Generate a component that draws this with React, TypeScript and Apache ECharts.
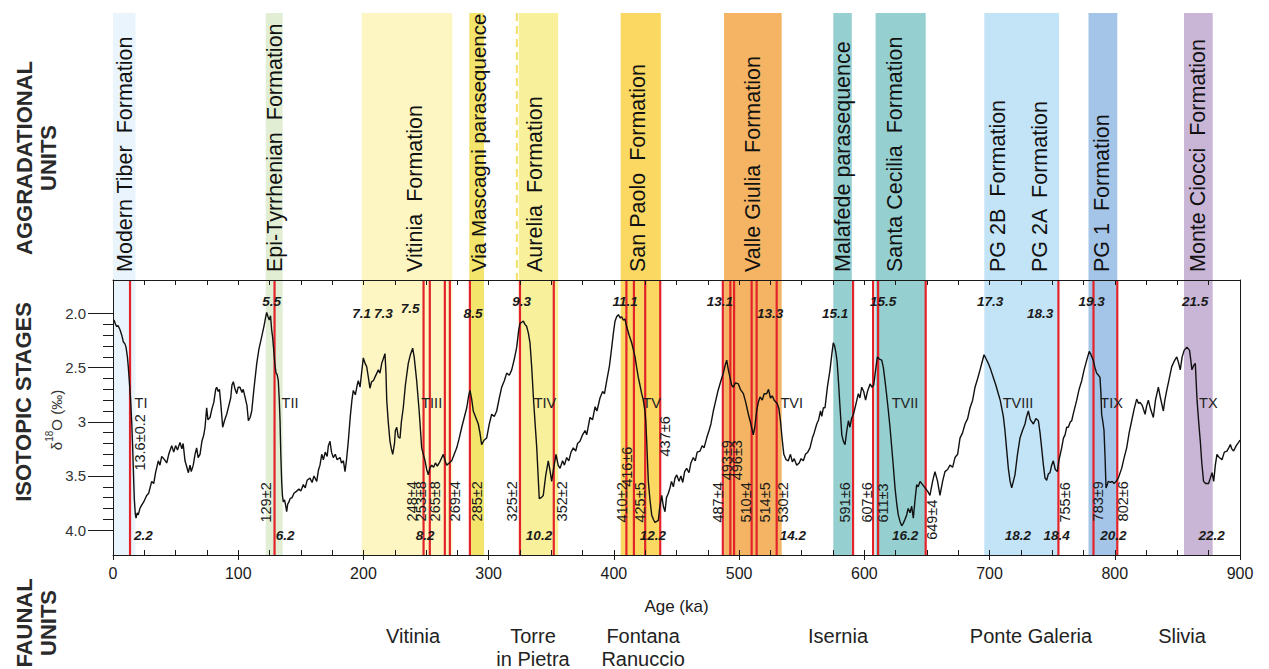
import React, { useEffect, useRef } from "react";
import * as echarts from "echarts";

// ---------- DATA ----------
// δ18O curve: [age ka, δ18O ‰]
const curve: [number, number][] = [
  [0.8,2.06],[2,2.10],[3,2.12],[4,2.11],[5.6,2.15],[7,2.20],[8.2,2.26],[9.5,2.28],[10.4,2.31],[11.5,2.40],[12.2,2.49],[13.2,2.65],[14.1,2.80],[15,3.02],[15.7,3.24],[16.4,3.50],[17,3.71],[17.8,3.85],[18.4,3.89],[19.3,3.84],[20.2,3.86],[21.5,3.80],[22.9,3.77],[24.5,3.74],[26.9,3.68],[28.5,3.66],[30.9,3.55],[32.5,3.57],[34,3.47],[36.2,3.36],[37.5,3.40],[38.9,3.32],[40.5,3.34],[42.9,3.38],[44.5,3.30],[46.9,3.22],[48.5,3.28],[50,3.22],[51.5,3.26],[53.5,3.19],[55,3.25],[56,3.20],[57.5,3.36],[59,3.42],[60.2,3.47],[61.5,3.40],[62.5,3.46],[64.1,3.40],[65.5,3.30],[66.8,3.24],[68,3.33],[69.5,3.30],[71,3.18],[72.5,3.12],[73.5,3.05],[74.8,2.87],[75.8,2.98],[77.5,2.96],[79,2.88],[80.5,2.82],[82,2.70],[82.8,2.68],[84,2.72],[85,2.70],[86,2.82],[87.6,3.05],[89,2.99],[90.8,2.93],[92.5,2.85],[94,2.78],[95,2.66],[96.1,2.63],[97.5,2.70],[98.8,2.74],[100,2.68],[101.4,2.68],[103,2.73],[104,2.70],[105.4,2.77],[107,2.85],[108.1,2.99],[109.5,2.96],[110.8,2.90],[112.5,2.70],[114.8,2.46],[116.5,2.33],[118.8,2.21],[120.5,2.12],[121.8,2.04],[122.7,1.99],[123.8,2.03],[124.8,2.06],[125.8,2.02],[126.7,2.15],[127.5,2.22],[128.6,2.37],[129.4,2.48],[130.2,2.55],[131,2.56],[132,2.62],[132.8,2.80],[133.4,2.99],[134,3.30],[134.7,3.55],[135.3,3.68],[136,3.74],[137,3.72],[138,3.78],[138.7,3.83],[139.5,3.76],[140.5,3.74],[141.4,3.71],[143,3.70],[144.5,3.66],[146.7,3.64],[148.5,3.62],[150,3.64],[152,3.58],[153.5,3.61],[155,3.54],[157.3,3.52],[159,3.56],[160.5,3.50],[162.7,3.55],[164,3.45],[165.3,3.40],[166.7,3.30],[168,3.35],[169.5,3.28],[171,3.32],[172,3.22],[173.3,3.18],[174.5,3.28],[175.9,3.33],[177.5,3.30],[179,3.35],[181.3,3.33],[182.5,3.38],[184,3.36],[185.3,3.46],[186.5,3.35],[187.9,3.18],[189.5,2.95],[190.8,2.80],[191.9,2.71],[193.5,2.75],[195,2.66],[195.9,2.62],[197.3,2.68],[198.5,2.55],
  [199.9,2.41],[201.3,2.46],[202.6,2.49],[203.8,2.58],[205.2,2.69],[206.5,2.63],[207.9,2.62],[209.5,2.58],[211.9,2.52],[213.2,2.55],[214.6,2.46],[215.8,2.42],[217.2,2.37],[218,2.55],[218.6,2.80],[219.8,3.00],[221.2,3.18],[222.3,3.25],[223.4,3.30],[224.8,3.20],[225.5,3.08],[226.6,3.05],[227.8,3.14],[229.2,3.15],[230.3,3.00],[231.8,2.87],[233.5,2.66],[235.8,2.46],[237.5,2.38],[239.3,2.32],[240.5,2.40],[242.5,2.62],[244.5,2.90],[246.5,3.24],[247.8,3.30],[249.2,3.36],[250.5,3.44],[251.8,3.49],[253,3.43],[254.5,3.40],[256,3.42],[257.5,3.38],[259,3.41],[261,3.37],[263.8,3.30],[265.2,3.36],[266.5,3.40],[268.5,3.38],[270.5,3.36],[272.5,3.30],[274.5,3.24],[276.5,3.15],[278.5,3.05],[280.5,2.96],[282.5,2.87],[284,2.76],[285.1,2.71],[286.3,2.78],[287.7,2.90],[289.7,2.96],[291.7,3.02],[293,3.10],[294.4,3.21],[296.3,3.17],[298.4,3.15],[300.5,3.02],[302.4,2.93],[304.5,2.95],[306.4,2.90],[308.5,2.78],[310.4,2.68],[312.5,2.62],[314.4,2.55],[316.5,2.57],[318.4,2.52],[320.5,2.42],[322.4,2.31],[324,2.15],[325,2.09],[326.4,2.08],[327.7,2.07],[329,2.10],[330.4,2.12],[331.7,2.18],[333,2.27],[334.4,2.50],[335.7,2.77],[337,3.00],[338.4,3.24],[339.5,3.50],[340.4,3.71],[342,3.70],[343.6,3.68],[345.5,3.50],[347.6,3.36],[349,3.45],[350.3,3.55],[352,3.42],[353.8,3.30],[355.5,3.40],[357,3.43],[359,3.36],[360.5,3.40],[362.3,3.33],[364,3.36],[365.8,3.28],[367.6,3.24],[369.5,3.27],[371,3.20],[372.9,3.18],
  [375,3.12],[377,3.08],[378.3,3.12],[380.9,2.96],[383,2.98],[385,2.86],[386.5,2.90],[388.9,2.78],[391,2.72],[392.5,2.74],[394.3,2.62],[396.5,2.48],[398.3,2.31],[399.6,2.18],[400.9,2.07],[402.2,2.03],[403.6,2.01],[405,2.04],[406.2,2.03],[407.5,2.06],[408.8,2.05],[410.2,2.12],[412.2,2.20],[414.2,2.27],[415.5,2.33],[416.9,2.40],[418.2,2.50],[419.5,2.59],[420.8,2.66],[422.2,2.74],[423.5,2.80],[424.8,2.90],[425.5,3.00],[426.2,3.18],[426.8,3.35],[427.5,3.55],[428.8,3.72],[430.2,3.86],[431.5,3.90],[432.8,3.93],[434.2,3.92],[435.5,3.91],[436.5,3.80],[438.2,3.68],[439.5,3.78],[440.8,3.83],[442,3.70],[443.5,3.66],[444.8,3.61],[446,3.55],[447.5,3.60],[448.8,3.52],[450.2,3.49],[452,3.55],[453.5,3.50],[455,3.56],[456.5,3.46],[458.1,3.43],[460,3.47],[461.5,3.38],[463.4,3.33],[465,3.36],[466.5,3.28],[468.8,3.27],[470.5,3.22],[472,3.24],[474.1,3.15],[476,3.08],[477.5,3.02],[479.4,2.90],[481,2.82],[483,2.72],[484.7,2.65],[486,2.60],[487.4,2.55],[488.8,2.48],[490.1,2.43],[491.4,2.52],[492.7,2.59],[494,2.66],[495.4,2.68],[497,2.64],[499.4,2.65],[501,2.70],[503.4,2.74],[505.3,2.82],[507.4,2.93],[509.4,3.02],[511.3,3.12],[512.5,3.05],[514,2.90],[515.3,2.82],[516.7,2.77],[518.5,2.80],[520,2.74],[522,2.74],[523.5,2.70],[525,2.78],[526.5,2.76],[528,2.80],[530.4,2.83],[531.8,2.88],[533,2.99],[534.3,3.15],[535.7,3.30],[537.5,3.35],[539.3,3.36],[541,3.30],[542.5,3.37],[544,3.34],[546,3.40],[548,3.38],[549.5,3.34],[551.3,3.36],[553,3.30],[554.8,3.28],[556.6,3.24],[558.5,3.15],[560,3.10],[562,3.02],[563.5,2.98],[565,2.90],[566,2.95],[567.3,2.87],[568.6,2.87],[570.5,2.68],[572.6,2.52],[574,2.38],[575.2,2.27],
  [576.3,2.30],[577.4,2.37],[578.3,2.45],[579.3,2.62],[580.5,2.85],[582,3.12],[583.3,3.18],[584.6,3.21],[586,3.08],[587.3,2.99],[588.5,3.05],[589.8,2.97],[591.3,2.93],[593,2.85],[595.2,2.74],[596.5,2.78],[597.9,2.68],[599.5,2.72],[601,2.80],[602.5,2.72],[604.6,2.65],[606,2.68],[607.5,2.66],[609,2.52],[610.4,2.40],[612,2.42],[613.9,2.43],[615.2,2.50],[616.5,2.62],[617.8,2.75],[619.2,2.90],[620.5,3.05],[621.9,3.24],[623.2,3.42],[624.5,3.61],[625.8,3.75],[627.1,3.86],[628.5,3.92],[629.8,3.96],[631,3.94],[632.5,3.90],[633.8,3.86],[635,3.80],[636.5,3.84],[637.8,3.78],[639.1,3.89],[640.5,3.72],[641.8,3.58],[643,3.60],[644.5,3.55],[646.5,3.58],[648.5,3.61],[650.5,3.64],[652.4,3.68],[654.5,3.55],[656.4,3.46],[658.5,3.55],[660.4,3.68],[662.5,3.55],[664.4,3.46],[666.5,3.44],[668.4,3.40],[670.5,3.42],[672.4,3.33],[674.5,3.30],[676.4,3.15],[678.5,3.10],[680.4,3.02],[682.5,2.97],[684.4,2.87],[686.5,2.80],[688.4,2.68],[690.5,2.60],[692.4,2.52],[694,2.45],[695.6,2.38],[697.3,2.42],[699,2.46],[701,2.52],[703,2.59],[705,2.66],[707,2.74],[708.5,2.80],[709.7,2.87],[711,2.95],[712.3,3.08],[713.6,3.25],[715,3.43],[716.4,3.55],[717.7,3.61],[719,3.55],[720.3,3.49],[722.3,3.30],[724.3,3.15],[726.3,3.08],[728.3,3.02],[729.6,2.95],[731,2.90],[732.5,2.98],[735,3.02],[737,2.97],[739,2.99],[740.3,3.10],[741.6,3.24],[743,3.40],[744.3,3.52],[745.6,3.54],[747,3.48],[748.3,3.47],[749.6,3.40],[750.9,3.36],[752.5,3.44],[754.1,3.46],[755.5,3.35],[757.6,3.24],[759,3.15],[760.3,3.12],[761.6,3.05],[762.9,3.05],[764.5,3.00],[765.6,2.99],[767,2.92],[769.6,2.80],[771.5,2.70],[773.6,2.62],[775.5,2.52],[777.6,2.43],[779.6,2.35],
  [781,2.38],[782.8,2.43],[784.2,2.50],[785.5,2.55],[787,2.57],[788.2,2.59],[789,2.75],[789.5,2.93],[790.5,3.00],[791.4,3.08],[792.3,3.35],[793,3.61],[794,3.58],[794.8,3.55],[796.5,3.56],[798,3.55],[799.4,3.57],[801,3.55],[802.8,3.52],[804,3.48],[805.5,3.43],[807.5,3.33],[809.5,3.24],[811.5,3.10],[813.5,2.99],[815.5,2.88],[817.5,2.79],[819,2.83],[820.2,2.82],[822,2.85],[824.2,2.93],[825.5,2.85],[826.8,2.80],[828.5,2.88],[830.8,2.96],[832.5,2.80],[834.8,2.68],[836.5,2.78],[838.8,2.90],[840,2.80],[841.5,2.71],[843.5,2.60],[845.5,2.49],[847.5,2.44],[849.5,2.40],[850.8,2.45],[852.3,2.52],[853.8,2.40],[855.4,2.34],[857.6,2.31],[859.7,2.34],[860.6,2.42],[861.6,2.52],[863,2.48],[864.3,2.46],[865.7,2.80],[867,3.00],[868.3,3.18],[869.5,3.38],[870.9,3.55],[872.5,3.57],[874.9,3.57],[876.3,3.52],[877.7,3.47],[879,3.55],[880.3,3.40],[881.6,3.30],[883.5,3.33],[885.6,3.35],[887.5,3.28],[889.6,3.27],[891,3.24],[892.3,3.21],[893.5,3.25],[894.9,3.27],[897,3.22],[898.9,3.19],[900,3.17],
];

// aggradational units: age ranges (ka)
const bandRanges: [number, number][] = [
  [0, 18], [122, 135.5], [198.6, 271], [284.5, 296.3], [324, 355.5], [405.4, 437.5],
  [488, 534], [575.2, 590], [609, 649], [695.8, 755.5], [779, 802], [855.3, 878.2],
];
const aureliaDashedAge = 322.5;

const formationNames = [
  "Modern Tiber  Formation", "Epi-Tyrrhenian  Formation", "Vitinia  Formation",
  "Via Mascagni parasequence", "Aurelia  Formation", "San Paolo  Formation",
  "Valle Giulia  Formation", "Malafede parasequence", "Santa Cecilia  Formation",
  "PG 2B  Formation", "PG 2A  Formation", "PG 1  Formation", "Monte Ciocci  Formation",
];
const formationAges = [9.6, 129.4, 241.2, 291.5, 337, 419.3, 511.1, 583, 624.5, 706.7, 740.3, 789.8, 866.5];

// dated levels (red lines)
const dateAges = [13.6, 129, 248, 253, 265, 269, 285, 325, 352, 410, 416, 425, 437, 487, 493, 496, 510, 514, 530, 591, 607, 611, 649, 755, 783, 802];
const dateLabels = ["13.6±0.2", "129±2", "248±4", "253±8", "265±8", "269±4", "285±2", "325±2", "352±2", "410±2", "416±6", "425±5", "437±6", "487±4", "493±9", "496±3", "510±4", "514±5", "530±2", "591±6", "607±6", "611±3", "649±4", "755±6", "783±9", "802±6"];
const dateLabelAges = [21.6, 122, 238.5, 246, 257.1, 273.1, 290.4, 318.4, 358.3, 406.2, 410.2, 420.9, 440.8, 483.4, 490.1, 498.1, 505.3, 520.7, 535.3, 584.6, 601.9, 615.2, 653.8, 760.3, 786.9, 806.8];
const dateLabelBase = [3.45, 3.93, 3.92, 3.92, 3.92, 3.92, 3.92, 3.92, 3.92, 3.93, 3.6, 3.93, 3.32, 3.93, 3.54, 3.54, 3.93, 3.93, 3.93, 3.93, 3.93, 3.93, 4.09, 3.93, 3.92, 3.92];

// marine isotope stages
const stageNames = ["5.5", "7.1", "7.3", "7.5", "8.5", "9.3", "11.1", "13.1", "13.3", "15.1", "15.5", "17.3", "18.3", "19.3", "21.5",
  "2.2", "6.2", "8.2", "10.2", "12.2", "14.2", "16.2", "18.2", "18.4", "20.2", "22.2"];
const stageAges = [126.7, 198.6, 216, 237.2, 287.5, 326.4, 408.9, 484.7, 524.7, 576.6, 615, 700.4, 740.3, 781.6, 864.1,
  24.2, 137.4, 249.2, 340.2, 431.2, 543, 632.5, 722.7, 753.6, 798.8, 877.4];
const stageLevels = [1.89, 2.0, 2.0, 1.95, 2.0, 1.89, 1.89, 1.89, 2.0, 2.0, 1.89, 1.89, 2.0, 1.89, 1.89,
  4.05, 4.05, 4.05, 4.05, 4.05, 4.05, 4.05, 4.05, 4.05, 4.05, 4.05];

// terminations
const terminationNames = ["TI", "TII", "TIII", "TIV", "TV", "TVI", "TVII", "TVIII", "TIX", "TX"];
const terminationAges = [22.4, 141.4, 254.5, 345, 430.2, 542, 632.5, 722.7, 797.5, 874.7];
const terminationLevel = 2.83;

// faunal units
const faunalNames = ["Vitinia", "Torre\nin Pietra", "Fontana\nRanuccio", "Isernia", "Ponte Galeria", "Slivia"];
const faunalAges = [239.6, 335.4, 423.3, 579, 733.1, 853.7];

// axis ticks
const yMajorTicks = [2, 2.5, 3, 3.5, 4];
const yTickLabels = ["2.0", "2.5", "3", "3.5", "4.0"];
const yMinorTicks = [2.1, 2.2, 2.3, 2.4, 2.6, 2.7, 2.8, 2.9, 3.1, 3.2, 3.3, 3.4, 3.6, 3.7, 3.8, 3.9];

// ---------- STYLE ----------
const bandColors = ["#eaf4fc", "#e2eed4", "#fdf6c3", "#f3e46c", "#f9f09c", "#fbd862", "#f5b463", "#95cfd0", "#95cfd0", "#c3e3f7", "#a4c5e7", "#c9b6d7"];
const FONT = "'Liberation Sans', Arial, Helvetica, sans-serif";
const INK = "#1a1a1a";

export default function App() {
  const ref = useRef<HTMLDivElement>(null);

  useEffect(() => {
    const chart = echarts.init(ref.current!, null, { renderer: "svg" });

    const fullLine = (color: string, width: number, dash?: number[]) => (params: any, api: any) => {
      const cs = params.coordSys;
      const x = api.coord([api.value(0), 0])[0];
      return {
        type: "line",
        shape: { x1: x, y1: cs.y, x2: x, y2: cs.y + cs.height },
        style: { stroke: color, lineWidth: width, lineDash: dash },
      };
    };
    const bandRender = (params: any, api: any) => {
      const cs = params.coordSys;
      const x0 = api.coord([api.value(0), 0])[0];
      const x1 = api.coord([api.value(1), 0])[0];
      return {
        type: "rect",
        shape: { x: x0, y: cs.y, width: x1 - x0, height: cs.height },
        style: { fill: bandColors[api.value(2)] },
      };
    };
    const txt = (x: number, y: number, text: string, o: any = {}) => ({
      type: "text",
      x, y,
      rotation: o.rotation || 0,
      style: {
        text,
        fill: o.fill || INK,
        fontSize: o.fontSize || 14,
        fontFamily: FONT,
        fontWeight: o.fontWeight || "normal",
        fontStyle: o.fontStyle || "normal",
        align: o.align || "center",
        verticalAlign: o.verticalAlign || "middle",
        lineHeight: o.lineHeight,
      },
    });

    const xBase = {
      type: "value", min: 0, max: 900, gridIndex: 1, z: 10,
      splitLine: { show: false },
    };
    const yBase = {
      type: "value", min: 1.69, max: 4.23, inverse: true, gridIndex: 1, z: 10,
      splitLine: { show: false },
    };

    const option: any = {
      animation: false,
      backgroundColor: "#ffffff",
      grid: [
        { left: 113, right: 29, top: 13, height: 267, show: false },
        { left: 113, right: 29, top: 280, height: 275, show: false },
      ],
      xAxis: [
        { type: "value", min: 0, max: 900, gridIndex: 0, show: false },
        {
          ...xBase, interval: 100, position: "bottom",
          axisLine: { show: true, onZero: false, lineStyle: { color: INK, width: 1 } },
          axisTick: { show: true, inside: false, length: 5, lineStyle: { color: INK } },
          axisLabel: { show: true, margin: 10, fontSize: 16, color: INK, fontFamily: FONT },
          name: "Age (ka)", nameLocation: "middle", nameGap: 43,
          nameTextStyle: { fontSize: 17, color: INK, fontFamily: FONT },
        },
        {
          ...xBase, interval: 25, position: "bottom",
          axisLine: { show: false },
          axisTick: { show: true, inside: true, length: 5, lineStyle: { color: INK } },
          axisLabel: { show: false },
        },
        {
          ...xBase, interval: 25, position: "top",
          axisLine: { show: true, onZero: false, lineStyle: { color: INK, width: 1 } },
          axisTick: { show: true, inside: true, length: 5, lineStyle: { color: INK } },
          axisLabel: { show: false },
        },
      ],
      yAxis: [
        { type: "value", min: 0, max: 1, gridIndex: 0, show: false },
        {
          ...yBase, position: "left",
          axisLine: { show: true, onZero: false, lineStyle: { color: INK, width: 1 } },
          axisTick: { show: true, inside: false, length: 25, customValues: yMajorTicks, lineStyle: { color: INK } },
          axisLabel: {
            show: true, customValues: yMajorTicks, margin: 27, fontSize: 15, color: "#333", fontFamily: FONT,
            formatter: (v: number) => {
              let best = 0;
              yMajorTicks.forEach((t, i) => { if (Math.abs(t - v) < Math.abs(yMajorTicks[best] - v)) best = i; });
              return yTickLabels[best];
            },
          },
        },
        {
          ...yBase, position: "left",
          axisLine: { show: false },
          axisTick: { show: true, inside: false, length: 10, customValues: yMinorTicks, lineStyle: { color: INK } },
          axisLabel: { show: false },
        },
        {
          ...yBase, position: "right",
          axisLine: { show: true, onZero: false, lineStyle: { color: INK, width: 1 } },
          axisTick: { show: false },
          axisLabel: { show: false },
        },
      ],
      series: [
        {
          type: "custom", xAxisIndex: 0, yAxisIndex: 0, z: 1, silent: true,
          data: bandRanges.map((r, i) => [r[0], r[1], i]),
          renderItem: bandRender,
        },
        {
          type: "custom", xAxisIndex: 1, yAxisIndex: 1, z: 1, silent: true,
          data: bandRanges.map((r, i) => [r[0], r[1], i]),
          renderItem: bandRender,
        },
        {
          type: "custom", xAxisIndex: 0, yAxisIndex: 0, z: 2, silent: true,
          data: [[aureliaDashedAge, 0]],
          renderItem: fullLine("#f2df6a", 2, [8, 5]),
        },
        {
          type: "custom", xAxisIndex: 1, yAxisIndex: 1, z: 3, silent: true,
          data: dateAges.map((a) => [a, 3]),
          renderItem: fullLine("#e3232a", 2.2),
        },
        {
          type: "line", xAxisIndex: 1, yAxisIndex: 1, z: 4, silent: true,
          data: curve, showSymbol: false, symbol: "none",
          lineStyle: { color: "#111", width: 1.4 },
        },
        {
          type: "custom", xAxisIndex: 0, yAxisIndex: 0, z: 5, silent: true,
          data: formationAges.map((a, i) => [a, 0.03, i]),
          renderItem: (params: any, api: any) => {
            const i = api.value(2);
            const p = api.coord([api.value(0), api.value(1)]);
            return txt(p[0], p[1], formationNames[i], {
              rotation: Math.PI / 2, align: "left", fontSize: i === 3 ? 20.5 : 21.5, fill: "#111",
            });
          },
        },
        {
          type: "custom", xAxisIndex: 1, yAxisIndex: 1, z: 5, silent: true,
          data: dateLabelAges.map((a, i) => [a, dateLabelBase[i], i]),
          renderItem: (params: any, api: any) => {
            const p = api.coord([api.value(0), api.value(1)]);
            return txt(p[0], p[1], dateLabels[api.value(2)], { rotation: Math.PI / 2, align: "left", fontSize: 14.5 });
          },
        },
        {
          type: "custom", xAxisIndex: 1, yAxisIndex: 1, z: 5, silent: true,
          data: stageAges.map((a, i) => [a, stageLevels[i], i]),
          renderItem: (params: any, api: any) => {
            const p = api.coord([api.value(0), api.value(1)]);
            return txt(p[0], p[1], stageNames[api.value(2)], { fontSize: 13.5, fontWeight: "bold", fontStyle: "italic" });
          },
        },
        {
          type: "custom", xAxisIndex: 1, yAxisIndex: 1, z: 5, silent: true,
          data: terminationAges.map((a, i) => [a, terminationLevel, i]),
          renderItem: (params: any, api: any) => {
            const p = api.coord([api.value(0), api.value(1)]);
            return txt(p[0], p[1], terminationNames[api.value(2)], { fontSize: 14.5, fill: "#222" });
          },
        },
        {
          type: "custom", xAxisIndex: 1, yAxisIndex: 1, z: 5, silent: true, clip: false,
          data: faunalAges.map((a, i) => [a, 4.23, i]),
          renderItem: (params: any, api: any) => {
            const p = api.coord([api.value(0), api.value(1)]);
            return txt(p[0], p[1] + 69, faunalNames[api.value(2)], {
              fontSize: 20, verticalAlign: "top", lineHeight: 23, fill: "#222",
            });
          },
        },
      ],
      graphic: [
        { type: "text", x: 24, y: 158, rotation: Math.PI / 2, style: { text: "AGGRADATIONAL", fontSize: 22, fontWeight: "bold", fontFamily: FONT, fill: "#2a2a2a", align: "center", verticalAlign: "middle" } },
        { type: "text", x: 48, y: 158, rotation: Math.PI / 2, style: { text: "UNITS", fontSize: 22, fontWeight: "bold", fontFamily: FONT, fill: "#2a2a2a", align: "center", verticalAlign: "middle" } },
        { type: "text", x: 23, y: 402, rotation: Math.PI / 2, style: { text: "ISOTOPIC STAGES", fontSize: 22, fontWeight: "bold", fontFamily: FONT, fill: "#2a2a2a", align: "center", verticalAlign: "middle" } },
        { type: "text", x: 24, y: 623, rotation: Math.PI / 2, style: { text: "FAUNAL", fontSize: 22, fontWeight: "bold", fontFamily: FONT, fill: "#2a2a2a", align: "center", verticalAlign: "middle" } },
        { type: "text", x: 48, y: 623, rotation: Math.PI / 2, style: { text: "UNITS", fontSize: 22, fontWeight: "bold", fontFamily: FONT, fill: "#2a2a2a", align: "center", verticalAlign: "middle" } },
        {
          type: "text", x: 54, y: 420, rotation: Math.PI / 2,
          style: {
            text: "{a|δ}{b|18}{a|O (‰)}", fontFamily: FONT, fill: "#333", align: "center", verticalAlign: "middle",
            rich: {
              a: { fontSize: 15, fontFamily: FONT, fill: "#333", lineHeight: 20, verticalAlign: "bottom" },
              b: { fontSize: 10, fontFamily: FONT, fill: "#333", lineHeight: 20, verticalAlign: "top" },
            },
          },
        },
      ],
    };

    chart.setOption(option);
    return () => chart.dispose();
  }, []);

  return (
    <div
      ref={ref}
      style={{ position: "fixed", left: 0, top: 0, width: 1269, height: 669, background: "#fff" }}
    />
  );
}
